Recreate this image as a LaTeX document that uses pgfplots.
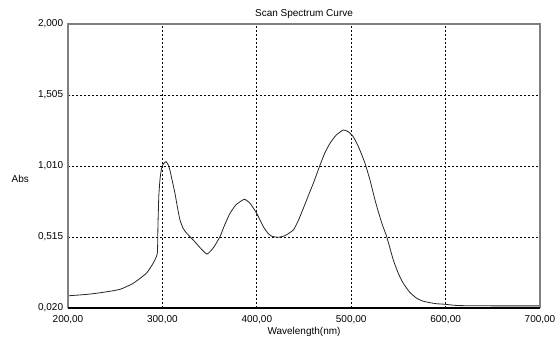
\documentclass[border=0pt]{standalone}
\usepackage{fontspec}
\setmainfont{Liberation Sans}
\usepackage{pgfplots}
\pgfplotsset{compat=1.18}
\begin{document}
\fontsize{7.5}{9}\selectfont
\begin{tikzpicture}
\path[use as bounding box] (-51pt,-24pt) rectangle (365.25pt,231pt);
\begin{axis}[
  at={(0,0)}, anchor=south west,
  scale only axis, width=354pt, height=213pt,
  xmin=200, xmax=700, ymin=0.02, ymax=2.0,
  xtick={200,300,400,500,600,700},
  xticklabels={{200,00},{300,00},{400,00},{500,00},{600,00},{700,00}},
  ytick={0.02,0.515,1.01,1.505,2.0},
  yticklabels={{0,020},{0,515},{1,010},{1,505},{2,000}},
  major tick length=0pt,
  /pgf/number format/assume math mode=true,
  tick label style={font=\fontsize{7.5}{9}\selectfont},
  xticklabel style={yshift=-3pt},
  yticklabel style={xshift=-1pt},
  grid=major,
  major grid style={black, line width=0.5pt, dash pattern=on 1.5pt off 1.5pt},
  axis line style={draw=none},
  title={Scan Spectrum Curve},
  title style={font=\fontsize{7.5}{9}\selectfont, yshift=-5pt},
  xlabel={Wavelength(nm)},
  xlabel style={font=\fontsize{7.5}{9}\selectfont, yshift=3pt},
  clip=false,
]
\addplot[black!85, line width=0.6pt, smooth, tension=0.3] coordinates {
(200,0.105)(220,0.115)(237,0.129)(255,0.150)(269,0.192)(283,0.262)(290,0.33)(294.6,0.40)
(295.3,0.60)(296.2,0.80)(297.5,0.92)(299,0.99)(301,1.025)(303.8,1.04)(306,1.02)(308,0.98)
(310,0.92)(313.3,0.82)(316,0.72)(318.6,0.634)(322,0.575)(325.7,0.541)(332.7,0.494)
(340,0.44)(347.2,0.396)(354,0.44)(361,0.517)(366,0.60)(371.6,0.68)(378,0.74)(386.8,0.778)
(392.8,0.75)(399.9,0.68)(406.9,0.587)(412,0.54)(416,0.52)(422.8,0.513)(430,0.525)
(438.7,0.564)(444,0.63)(449.3,0.715)(455,0.81)(459.9,0.89)(467,1.017)(472,1.10)
(477.5,1.168)(484,1.225)(491.6,1.261)(497,1.248)(502.2,1.214)(508,1.14)(514.6,1.029)
(520,0.91)(525.2,0.773)(528.7,0.692)(533,0.60)(537.6,0.517)(544.6,0.355)(550,0.26)
(555.2,0.192)(562,0.13)(569.4,0.088)(576,0.068)(583.5,0.057)(590,0.05)(599.4,0.046)
(613.5,0.037)(650,0.035)(700,0.035)
};
\draw[black!50, line width=1.5pt] (rel axis cs:0,0)--(rel axis cs:0,1)--(rel axis cs:1,1)--(rel axis cs:1,0);
\draw[black, line width=0.8pt] (rel axis cs:0,0)--(rel axis cs:1,0);
\node[anchor=west, font=\fontsize{7.5}{9}\selectfont] at ([xshift=-45pt]rel axis cs:0,0.455) {Abs};
\end{axis}
\end{tikzpicture}
\end{document}
